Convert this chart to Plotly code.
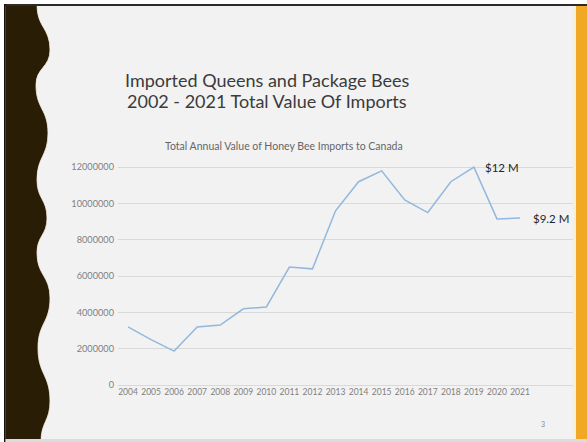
import plotly.graph_objects as go

# Annual value of honey bee imports (CAD)
years = [2004, 2005, 2006, 2007, 2008, 2009, 2010, 2011, 2012,
         2013, 2014, 2015, 2016, 2017, 2018, 2019, 2020, 2021]
import_value = [3200000, 2500000, 1870000, 3200000, 3300000, 4200000, 4300000,
                6500000, 6400000, 9600000, 11200000, 11800000, 10200000,
                9500000, 11200000, 12000000, 9150000, 9200000]
y_ticks = [0, 2000000, 4000000, 6000000, 8000000, 10000000, 12000000]
peak_label = "$12 M"
last_label = "$9.2 M"

W, H = 587, 442
L, R, T, B = 118, 576, 162, 385          # plot-area edges in pixels
PX_PER_YEAR = 23.06
PX_PER_UNIT = 18.15e-6                   # pixels per dollar

def xp(px):
    return (px - L) / (R - L)

def yp(py):
    return (B - py) / (B - T)

fig = go.Figure()
fig.add_trace(go.Scatter(
    x=years, y=import_value, mode="lines",
    line=dict(color="#92b8dc", width=1.5),
    hoverinfo="x+y", showlegend=False,
))

x0 = years[0] - 10 / PX_PER_YEAR
x1 = x0 + (R - L) / PX_PER_YEAR
y1 = (B - T) / PX_PER_UNIT

tick_font = dict(family="Lato, 'Open Sans', sans-serif", size=8.5, color="#7f7f7f")

fig.update_xaxes(
    range=[x0, x1], tickvals=years, ticktext=[str(y) for y in years],
    showgrid=False, zeroline=False, showline=False, ticks="",
    tickfont=tick_font, fixedrange=True,
)
fig.update_yaxes(
    range=[0, y1], tickvals=y_ticks, ticktext=[str(v) for v in y_ticks],
    showgrid=True, gridcolor="#d9d9d9", gridwidth=1,
    zeroline=True, zerolinecolor="#d9d9d9", zerolinewidth=1,
    showline=False, ticks="", tickfont=dict(tick_font, size=9.2),
    ticklabelstandoff=3, fixedrange=True,
)

# Slide decoration: dark wavy left band, frame lines and gold right bar
wave = [(37, 5), (50, 50), (36, 85), (48, 133), (37, 180), (47, 218),
        (37, 253), (50, 298), (38, 348), (50, 401), (41, 442)]
path = f"M {xp(5)},{yp(5)} L {xp(wave[0][0])},{yp(wave[0][1])}"
for (ax, ay), (bx, by) in zip(wave[:-1], wave[1:]):
    my = (ay + by) / 2
    path += f" C {xp(ax)},{yp(my)} {xp(bx)},{yp(my)} {xp(bx)},{yp(by)}"
path += f" L {xp(5)},{yp(442)} Z"

shapes = [
    dict(type="path", path=path, xref="paper", yref="paper",
         fillcolor="#2a1d06", line=dict(color="#f6eedc", width=0.8), layer="above"),
    dict(type="rect", xref="paper", yref="paper", x0=xp(0), x1=xp(W), y0=yp(0), y1=yp(4),
         fillcolor="#ffffff", line=dict(width=0), layer="above"),
    dict(type="rect", xref="paper", yref="paper", x0=xp(0), x1=xp(4), y0=yp(0), y1=yp(H),
         fillcolor="#ffffff", line=dict(width=0), layer="above"),
    dict(type="rect", xref="paper", yref="paper", x0=xp(4), x1=xp(W), y0=yp(4), y1=yp(6),
         fillcolor="#2b2b2b", line=dict(width=0), layer="above"),
    dict(type="rect", xref="paper", yref="paper", x0=xp(4), x1=xp(5.5), y0=yp(4), y1=yp(H),
         fillcolor="#111111", line=dict(width=0), layer="above"),
    dict(type="rect", xref="paper", yref="paper", x0=xp(573), x1=xp(576), y0=yp(6), y1=yp(439),
         fillcolor="#f8efd8", line=dict(width=0), layer="above"),
    dict(type="rect", xref="paper", yref="paper", x0=xp(576), x1=xp(W), y0=yp(6), y1=yp(439),
         fillcolor="#f0a825", line=dict(width=0), layer="above"),
    dict(type="rect", xref="paper", yref="paper", x0=xp(5.5), x1=xp(W), y0=yp(439), y1=yp(H),
         fillcolor="#dcdcdc", line=dict(width=0), layer="above"),
]

title_font = dict(family="Lato, 'Open Sans', sans-serif", size=18, color="#3b3b3b")
annotations = [
    dict(text="Imported Queens and Package Bees", xref="paper", yref="paper",
         x=xp(267), y=yp(80), xanchor="center", yanchor="middle",
         showarrow=False, font=title_font),
    dict(text="2002 - 2021 Total Value Of Imports", xref="paper", yref="paper",
         x=xp(267), y=yp(101), xanchor="center", yanchor="middle",
         showarrow=False, font=title_font),
    dict(text="Total Annual Value of Honey Bee Imports to Canada", xref="paper", yref="paper",
         x=xp(284), y=yp(146), xanchor="center", yanchor="middle", showarrow=False,
         font=dict(family="Lato, 'Open Sans', sans-serif", size=10.5, color="#666666")),
    dict(text=peak_label, x=years[15], y=import_value[15], xref="x", yref="y",
         xanchor="left", yanchor="middle", xshift=9, showarrow=False,
         font=dict(family="Lato, 'Open Sans', sans-serif", size=11.5, color="#262626")),
    dict(text=last_label, x=years[-1], y=import_value[-1], xref="x", yref="y",
         xanchor="left", yanchor="middle", xshift=11, showarrow=False,
         font=dict(family="Lato, 'Open Sans', sans-serif", size=11.5, color="#262626")),
    dict(text="3", xref="paper", yref="paper", x=xp(543), y=yp(424),
         xanchor="center", yanchor="middle", showarrow=False,
         font=dict(family="Lato, 'Open Sans', sans-serif", size=7, color="#8c8c8c")),
]

fig.update_layout(
    width=W, height=H, autosize=False,
    margin=dict(l=L, r=W - R, t=T, b=H - B, pad=0),
    paper_bgcolor="#f2f2f2", plot_bgcolor="rgba(0,0,0,0)",
    shapes=shapes, annotations=annotations, showlegend=False,
)

fig.write_html("out.html", config={"displayModeBar": False})
